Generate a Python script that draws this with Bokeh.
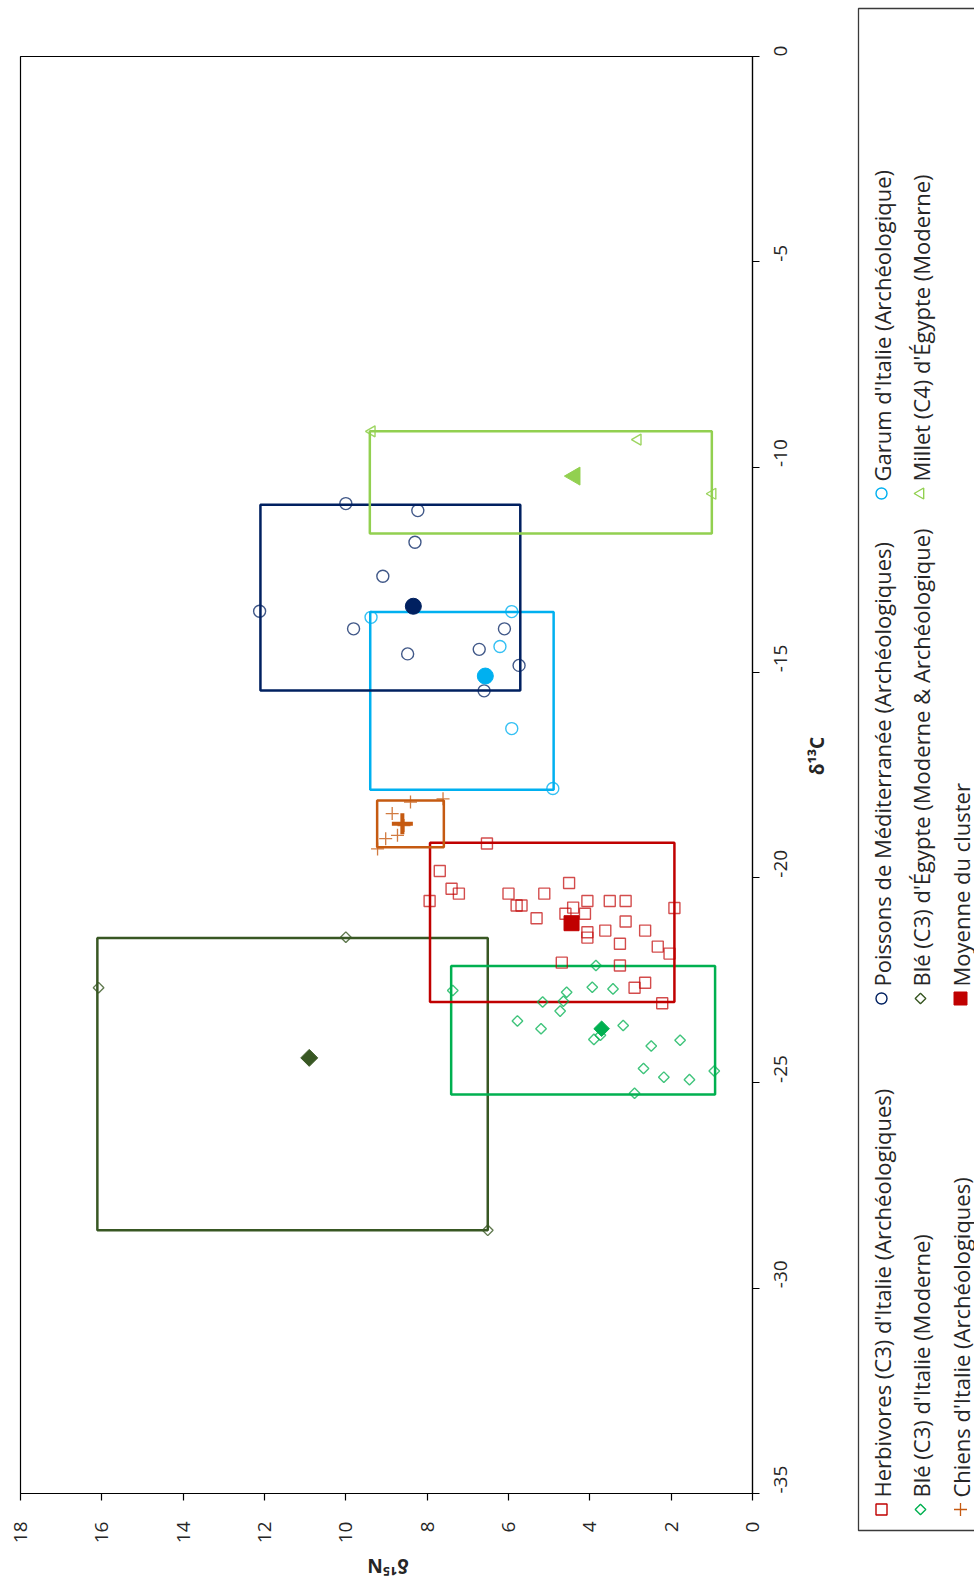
import math
from bokeh.plotting import figure
from bokeh.models import Range1d, FixedTicker
from bokeh.layouts import row, column
from bokeh.embed import file_html
from bokeh.resources import INLINE
from bokeh.core.properties import value

# ---------------- data (x = δ15N, y = δ13C) ----------------
herb_n = [6.53, 7.69, 7.40, 7.22, 7.94, 6.00, 5.80, 5.68, 5.12, 4.51, 5.31, 4.60, 4.41, 4.06, 4.12,
          3.51, 3.12, 1.92, 3.12, 3.62, 4.06, 4.06, 2.64, 3.26, 2.33, 2.04, 4.69, 3.26, 2.90, 2.64, 2.22]
herb_c = [-19.17, -19.84, -20.27, -20.39, -20.57, -20.39, -20.68, -20.68, -20.39, -20.13, -20.99, -20.88,
          -20.73, -20.57, -20.88, -20.57, -20.57, -20.74, -21.07, -21.29, -21.33, -21.46, -21.29, -21.61,
          -21.68, -21.85, -22.07, -22.14, -22.68, -22.56, -23.06]

italy_n = [7.37, 3.85, 4.57, 5.16, 4.65, 4.73, 3.94, 3.43, 5.78, 5.20, 3.18, 3.90, 3.74, 2.49, 1.78,
           2.68, 2.18, 1.55, 0.94, 2.90]
italy_c = [-22.75, -22.14, -22.79, -23.03, -23.01, -23.25, -22.67, -22.71, -23.49, -23.68, -23.60, -23.94,
           -23.84, -24.10, -23.96, -24.65, -24.86, -24.92, -24.71, -25.25]

dog_n = [8.41, 7.61, 8.86, 8.57, 9.02, 9.22, 8.73]
dog_c = [-18.16, -18.08, -18.44, -18.73, -19.05, -19.30, -18.97]

fish_n = [10.00, 8.23, 8.30, 9.09, 12.12, 9.81, 6.10, 8.48, 6.72, 5.74, 6.60]
fish_c = [-10.89, -11.06, -11.83, -12.66, -13.51, -13.94, -13.94, -14.55, -14.44, -14.83, -15.45]

garum_n = [9.38, 5.92, 6.21, 5.92, 4.91]
garum_c = [-13.66, -13.52, -14.37, -16.37, -17.83]

egypt_n = [10.00, 16.08, 6.51]
egypt_c = [-21.45, -22.68, -28.59]

millet_n = [9.36, 2.82, 0.98]
millet_c = [-9.13, -9.33, -10.65]

# cluster means (n, c)
herb_mean = (4.45, -21.11)
italy_mean = (3.71, -23.68)
dog_mean = (8.61, -18.69)
fish_mean = (8.34, -13.39)
garum_mean = (6.57, -15.09)
egypt_mean = (10.90, -24.39)
millet_mean = (4.37, -10.22)

# cluster extents: n_low, n_high, c_low, c_high
herb_box = (1.92, 7.93, -23.03, -19.15)
italy_box = (0.92, 7.41, -25.28, -22.15)
dog_box = (7.59, 9.23, -19.26, -18.12)
fish_box = (5.71, 12.10, -15.44, -10.92)
garum_box = (4.89, 9.40, -17.86, -13.53)
egypt_box = (6.51, 16.11, -28.59, -21.47)
millet_box = (1.00, 9.41, -11.62, -9.13)

x_ticks = [0, 2, 4, 6, 8, 10, 12, 14, 16, 18]
y_ticks = [-35, -30, -25, -20, -15, -10, -5, 0]
x_title = "δ¹⁵N"
y_title = "δ¹³C"

legend_labels = [
    "Herbivores (C3) d'Italie (Archéologiques)",
    "Blé (C3) d'Italie (Moderne)",
    "Chiens d'Italie (Archéologiques)",
    "Poissons de Méditerranée (Archéologiques)",
    "Blé (C3) d'Égypte (Moderne & Archéologique)",
    "Moyenne du cluster",
    "Garum d'Italie (Archéologique)",
    "Millet (C4) d'Égypte (Moderne)",
]

RED = "#C00000"
GREEN = "#00B050"
ORANGE = "#C55A11"
NAVY = "#002060"
OLIVE = "#385723"
CYAN = "#00B0F0"
LIME = "#92D050"

FONT = "Open Sans"
TXT = "#262626"

# ---------------- main plot ----------------
W1, H = 845, 1578
H1 = 1548
p = figure(width=W1, height=H1, x_range=Range1d(18, 0), y_range=Range1d(-35, 0),
           x_axis_location="below", y_axis_location="right",
           toolbar_location=None, output_backend="svg",
           min_border_left=20, min_border_top=56, min_border_right=90, min_border_bottom=55)
p.grid.visible = False
p.outline_line_color = "black"
p.outline_line_width = 1.2
p.background_fill_color = "white"
p.border_fill_color = "white"

for ax, ticks in ((p.xaxis[0], x_ticks), (p.yaxis[0], y_ticks)):
    ax.ticker = FixedTicker(ticks=ticks)
    ax.major_label_overrides = {t: str(t) for t in ticks}
    ax.minor_tick_line_color = None
    ax.major_tick_in = 0
    ax.major_tick_out = 7
    ax.axis_line_color = "black"
    ax.axis_line_width = 1.2
    ax.major_tick_line_color = "black"
    ax.major_tick_line_width = 1.2
    ax.major_label_text_font = FONT
    ax.major_label_text_font_size = "19px"
    ax.major_label_text_color = TXT
    ax.major_label_orientation = math.pi / 2
    ax.axis_label_text_font = "Noto Sans"
    ax.axis_label_text_font_style = "bold"
    ax.axis_label_text_font_size = "19px"
    ax.axis_label_text_color = TXT

p.yaxis[0].axis_label = y_title
p.xaxis[0].major_label_standoff = 21
p.yaxis[0].major_label_standoff = 21
p.yaxis[0].axis_label_standoff = 20
p.yaxis[0].axis_label_orientation = math.pi / 2


def box(b, color):
    p.quad(left=[b[1]], right=[b[0]], bottom=[b[2]], top=[b[3]],
           fill_color=None, line_color=color, line_width=2.5)


box(egypt_box, OLIVE)
box(italy_box, GREEN)
box(herb_box, RED)
box(dog_box, ORANGE)
box(garum_box, CYAN)
box(fish_box, NAVY)
box(millet_box, LIME)

# raw points
p.scatter(egypt_n, egypt_c, marker="square", angle=math.pi / 4, size=7.5,
          fill_color=None, line_color=OLIVE, line_alpha=0.8, line_width=1.4)
p.scatter(italy_n, italy_c, marker="square", angle=math.pi / 4, size=7.5,
          fill_color=None, line_color=GREEN, line_alpha=0.75, line_width=1.4)
p.scatter(herb_n, herb_c, marker="square", size=11,
          fill_color=None, line_color=RED, line_alpha=0.7, line_width=1.4)
p.scatter(dog_n, dog_c, marker="cross", size=13,
          line_color=ORANGE, line_alpha=0.8, line_width=1.3)
p.scatter(garum_n, garum_c, marker="circle", size=12,
          fill_color=None, line_color=CYAN, line_alpha=0.8, line_width=1.4)
p.scatter(fish_n, fish_c, marker="circle", size=12,
          fill_color=None, line_color=NAVY, line_alpha=0.75, line_width=1.4)
p.scatter(millet_n, millet_c, marker="triangle", angle=math.pi / 2, size=11,
          fill_color=None, line_color=LIME, line_alpha=0.9, line_width=1.4)

# cluster means
p.scatter([egypt_mean[0]], [egypt_mean[1]], marker="square", angle=math.pi / 4, size=12,
          fill_color=OLIVE, line_color=OLIVE)
p.scatter([italy_mean[0]], [italy_mean[1]], marker="square", angle=math.pi / 4, size=11,
          fill_color=GREEN, line_color=GREEN)
p.scatter([herb_mean[0]], [herb_mean[1]], marker="square", size=15,
          fill_color=RED, line_color=RED)
p.scatter([dog_mean[0]], [dog_mean[1]], marker="cross", size=21,
          line_color=ORANGE, line_width=4)
p.scatter([garum_mean[0]], [garum_mean[1]], marker="circle", size=16,
          fill_color=CYAN, line_color=CYAN)
p.scatter([fish_mean[0]], [fish_mean[1]], marker="circle", size=16,
          fill_color=NAVY, line_color=NAVY)
p.scatter([millet_mean[0]], [millet_mean[1]], marker="triangle", angle=math.pi / 2, size=18,
          fill_color=LIME, line_color=LIME)

# ---------------- x-axis title strip (same horizontal scale) ----------------
H3 = H - H1
xl = figure(width=W1, height=H3, x_range=p.x_range, y_range=Range1d(0, H3),
            x_axis_location=None, y_axis_location=None, toolbar_location=None,
            output_backend="svg", min_border_left=20, min_border_right=90,
            min_border_top=0, min_border_bottom=0)
xl.grid.visible = False
xl.outline_line_color = None
xl.text(x=[sum(x_ticks[::len(x_ticks) - 1]) / 2], y=[13], text=[x_title], angle=math.pi,
        text_align="center", text_baseline="middle", text_font=value("Noto Sans"),
        text_font_style="bold", text_font_size="19px", text_color=TXT)

# ---------------- legend panel (pixel space) ----------------
W2 = 974 - W1
lg = figure(width=W2, height=H, x_range=Range1d(0, W2), y_range=Range1d(0, H),
            x_axis_location=None, y_axis_location=None, toolbar_location=None,
            output_backend="svg", min_border=0)
lg.grid.visible = False
lg.outline_line_color = None
for fig in (p, xl, lg):
    if "frame_align" in fig.properties():
        fig.frame_align = False

lg.quad(left=[13], right=[400], bottom=[48], top=[1570], fill_color=None,
        line_color="#3a3a3a", line_width=1.3)

col_x = [36, 75, 115]
mark_y = [69, 580, 1085]
txt_off = 12

tx = [col_x[0], col_x[1], col_x[2], col_x[0], col_x[1], col_x[2], col_x[0], col_x[1]]
ty = [mark_y[0]] * 3 + [mark_y[1]] * 3 + [mark_y[2]] * 2
lg.text(x=tx, y=[v + txt_off for v in ty], text=legend_labels, angle=math.pi / 2,
        text_align="left", text_baseline="middle", text_font=value(FONT),
        text_font_size="22px", text_color=TXT)

lg.scatter([tx[0]], [ty[0]], marker="square", size=11, fill_color=None, line_color=RED, line_width=1.4)
lg.scatter([tx[1]], [ty[1]], marker="square", angle=math.pi / 4, size=7.5, fill_color=None,
           line_color=GREEN, line_width=1.4)
lg.scatter([tx[2]], [ty[2]], marker="cross", size=13, line_color=ORANGE, line_width=1.3)
lg.scatter([tx[3]], [ty[3]], marker="circle", size=11, fill_color=None, line_color=NAVY, line_width=1.4)
lg.scatter([tx[4]], [ty[4]], marker="square", angle=math.pi / 4, size=7.5, fill_color=None,
           line_color=OLIVE, line_width=1.4)
lg.scatter([tx[5]], [ty[5]], marker="square", size=13, fill_color=RED, line_color=RED)
lg.scatter([tx[6]], [ty[6]], marker="circle", size=11, fill_color=None, line_color=CYAN, line_width=1.4)
lg.scatter([tx[7]], [ty[7]], marker="triangle", angle=math.pi / 2, size=11, fill_color=None,
           line_color=LIME, line_width=1.4)

layout = row(column(p, xl, spacing=0), lg, spacing=0)
open("out.html", "w").write(file_html(layout, INLINE))
